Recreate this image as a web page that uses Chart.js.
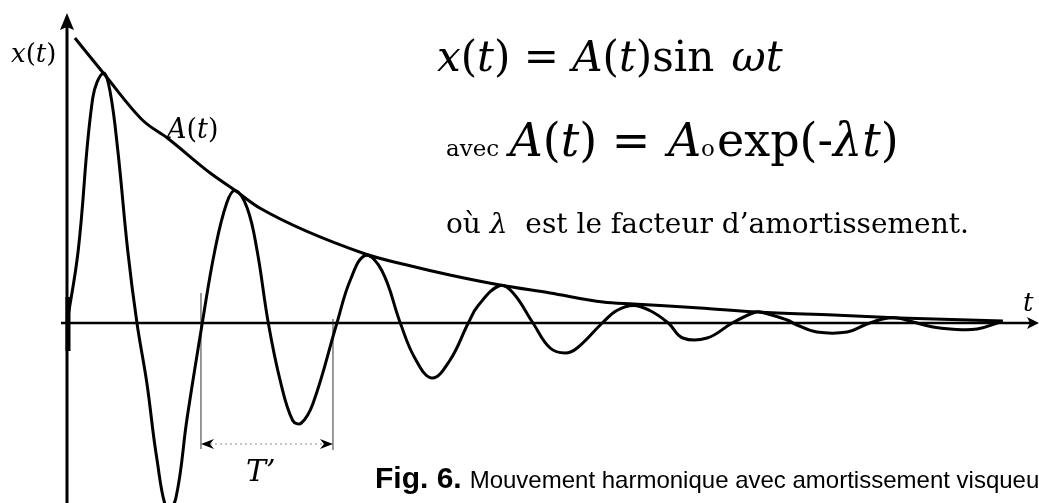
<!DOCTYPE html>
<html>
<head>
<meta charset="utf-8">
<script src="https://cdn.jsdelivr.net/npm/chart.js@4/dist/chart.umd.min.js"></script>
<style>
  body { margin: 0; background: #fff; }
  canvas { display: block; }
</style>
</head>
<body>
<canvas id="dampChart" width="1039" height="503"></canvas>
<script>
// x(t) : damped oscillation, sampled at peaks, troughs and zero crossings
const oscT = [0, 0.17, 0.39, 0.55, 0.65, 0.77, 0.92, 1.06, 1.21, 1.36, 1.52, 1.65, 1.82, 2.05,
  2.24, 2.42, 2.55, 2.73, 2.88, 3.05, 3.23, 3.42, 3.55, 3.73, 4.09, 4.29, 4.52, 4.77, 5.05,
  5.27, 5.53, 5.80, 6.08, 6.23, 6.56, 6.76, 7.06, 7.32, 7.55, 7.73, 8.11, 8.33, 8.58, 8.83,
  9.11, 9.33, 9.70, 10.08, 10.39, 10.50, 10.91, 11.06, 11.36, 11.82, 12.12, 12.36, 12.58,
  12.82, 13.12, 13.38, 13.79, 14.14];
const oscX = [0, 0.29, 0.90, 1.0, 0.93, 0.69, 0.29, 0, -0.24, -0.54, -0.75, -0.70, -0.38, 0,
  0.29, 0.48, 0.53, 0.46, 0.29, 0, -0.23, -0.39, -0.40, -0.32, 0, 0.17, 0.27, 0.21, 0,
  -0.14, -0.22, -0.15, 0, 0.07, 0.15, 0.12, 0, -0.10, -0.12, -0.10, 0, 0.05, 0.07, 0.05,
  0, -0.06, -0.06, 0, 0.04, 0.044, 0.012, -0.008, -0.036, -0.036, -0.004, 0.016, 0.02,
  0.004, -0.016, -0.024, -0.024, 0.004];

// A(t) : decaying envelope
const envT = [0.12, 0.55, 1.15, 1.52, 2.17, 2.55, 2.92, 4.52, 5.15, 5.80, 6.56, 7.32, 8.12,
  8.58, 9.59, 10.47, 11.61, 12.62, 14.18];
const envA = [1.14, 1.0, 0.81, 0.74, 0.60, 0.53, 0.46, 0.276, 0.232, 0.192, 0.152, 0.12,
  0.084, 0.076, 0.06, 0.044, 0.032, 0.02, 0.008];

// T' : two successive upward zero crossings
const periodMarks = [2.03, 4.03];

const T_MIN = -1.015, T_MAX = 14.727;
const X_MIN = -0.72, X_MAX = 1.292;

const SERIF = '"DejaVu Serif", serif';
const SANS = '"Liberation Sans", Arial, sans-serif';

function toPoints(ts, vs) {
  return ts.map((t, i) => ({ x: t, y: vs[i] }));
}

// draws a row of text pieces with their own style, left to right
function drawRuns(ctx, x, y, runs) {
  runs.forEach((r) => {
    ctx.font = r.font;
    ctx.fillText(r.text, x, y + (r.dy || 0));
    x += ctx.measureText(r.text).width + (r.gap || 0);
  });
}

const figurePlugin = {
  id: "figure",
  beforeDatasetsDraw(chart) {
    const ctx = chart.ctx;
    const xs = chart.scales.x;
    const ys = chart.scales.y;
    const x0 = xs.getPixelForValue(0);
    const y0 = ys.getPixelForValue(0);
    ctx.save();
    ctx.strokeStyle = "#000";
    ctx.fillStyle = "#000";
    ctx.lineCap = "butt";

    // vertical axis with arrow head
    ctx.lineWidth = 3;
    ctx.beginPath();
    ctx.moveTo(x0, chart.height);
    ctx.lineTo(x0, 22);
    ctx.stroke();
    ctx.beginPath();
    ctx.moveTo(x0, 13);
    ctx.lineTo(x0 - 7, 30);
    ctx.lineTo(x0, 27);
    ctx.lineTo(x0 + 7, 30);
    ctx.closePath();
    ctx.fill();
    // heavy ink where the curve leaves the origin
    ctx.lineWidth = 5;
    ctx.beginPath();
    ctx.moveTo(x0 + 1, y0 - 26);
    ctx.lineTo(x0 + 1, y0 + 28);
    ctx.stroke();

    // horizontal axis with arrow head
    ctx.lineWidth = 2.5;
    ctx.beginPath();
    ctx.moveTo(x0 - 6, y0);
    ctx.lineTo(chart.width - 6, y0);
    ctx.stroke();
    ctx.beginPath();
    ctx.moveTo(chart.width, y0);
    ctx.lineTo(chart.width - 12, y0 - 6);
    ctx.lineTo(chart.width - 9, y0);
    ctx.lineTo(chart.width - 12, y0 + 6);
    ctx.closePath();
    ctx.fill();

    // T' marker
    const pa = xs.getPixelForValue(periodMarks[0]);
    const pb = xs.getPixelForValue(periodMarks[1]);
    const ay = 444;
    ctx.strokeStyle = "#333";
    ctx.lineWidth = 1;
    ctx.beginPath();
    ctx.moveTo(pa, 293);
    ctx.lineTo(pa, 449);
    ctx.moveTo(pb, y0 - 4);
    ctx.lineTo(pb, 450);
    ctx.stroke();
    ctx.strokeStyle = "#888";
    ctx.setLineDash([2, 3]);
    ctx.beginPath();
    ctx.moveTo(pa + 4, ay);
    ctx.lineTo(pb - 4, ay);
    ctx.stroke();
    ctx.setLineDash([]);
    ctx.fillStyle = "#000";
    [[pa, 1], [pb, -1]].forEach(([px, dir]) => {
      ctx.beginPath();
      ctx.moveTo(px, ay);
      ctx.lineTo(px + dir * 13, ay - 5);
      ctx.lineTo(px + dir * 9, ay);
      ctx.lineTo(px + dir * 13, ay + 5);
      ctx.closePath();
      ctx.fill();
    });
    ctx.restore();
  },
  afterDraw(chart) {
    const ctx = chart.ctx;
    ctx.save();
    ctx.fillStyle = "#000";
    ctx.textBaseline = "alphabetic";

    const it = (s) => "italic " + s + "px " + SERIF;
    const up = (s) => s + "px " + SERIF;

    drawRuns(ctx, 11, 62, [
      { text: "x", font: it(26) }, { text: "(", font: up(26) },
      { text: "t", font: it(26) }, { text: ")", font: up(26) },
    ]);
    drawRuns(ctx, 167, 138, [
      { text: "A", font: it(27) }, { text: "(", font: up(27) },
      { text: "t", font: it(27) }, { text: ")", font: up(27) },
    ]);
    drawRuns(ctx, 1023, 311, [{ text: "t", font: it(26) }]);
    drawRuns(ctx, 246, 481, [{ text: "T’", font: it(30) }]);

    // formulas
    drawRuns(ctx, 437, 71, [
      { text: "x", font: it(42) }, { text: "(", font: up(42) },
      { text: "t", font: it(42) }, { text: ") = ", font: up(42) },
      { text: "A", font: it(42) }, { text: "(", font: up(42) },
      { text: "t", font: it(42) }, { text: ")sin ", font: up(42), gap: 4 },
      { text: "ωt", font: it(42) },
    ]);
    drawRuns(ctx, 446, 156, [
      { text: "avec ", font: up(23), gap: 3 },
      { text: "A", font: it(46) }, { text: "(", font: up(46) },
      { text: "t", font: it(46) }, { text: ") = ", font: up(46), gap: 3 },
      { text: "A", font: it(46) }, { text: "o", font: up(23), gap: 2 },
      { text: "exp(-", font: up(46) }, { text: "λt", font: it(46) },
      { text: ")", font: up(46) },
    ]);
    drawRuns(ctx, 446, 233, [
      { text: "où ", font: up(28) }, { text: "λ", font: it(28) },
      { text: "  est le facteur d’amortissement.", font: up(28) },
    ]);

    // caption
    drawRuns(ctx, 375, 488, [
      { text: "Fig. 6.", font: "bold 30px " + SANS, gap: 8 },
      { text: "Mouvement harmonique avec amortissement visqueux", font: "24px " + SANS },
    ]);
    ctx.restore();
  },
};

new Chart(document.getElementById("dampChart"), {
  type: "line",
  data: {
    datasets: [
      {
        label: "x(t)",
        data: toPoints(oscT, oscX),
        borderColor: "#000",
        borderWidth: 3,
        pointRadius: 0,
        tension: 0.4,
      },
      {
        label: "A(t)",
        data: toPoints(envT, envA),
        borderColor: "#000",
        borderWidth: 3,
        pointRadius: 0,
        cubicInterpolationMode: "monotone",
      },
    ],
  },
  options: {
    responsive: false,
    animation: false,
    layout: { padding: 0 },
    scales: {
      x: { type: "linear", min: T_MIN, max: T_MAX, display: false },
      y: { min: X_MIN, max: X_MAX, display: false },
    },
    plugins: {
      legend: { display: false },
      tooltip: { enabled: false },
    },
  },
  plugins: [figurePlugin],
});
</script>
</body>
</html>
